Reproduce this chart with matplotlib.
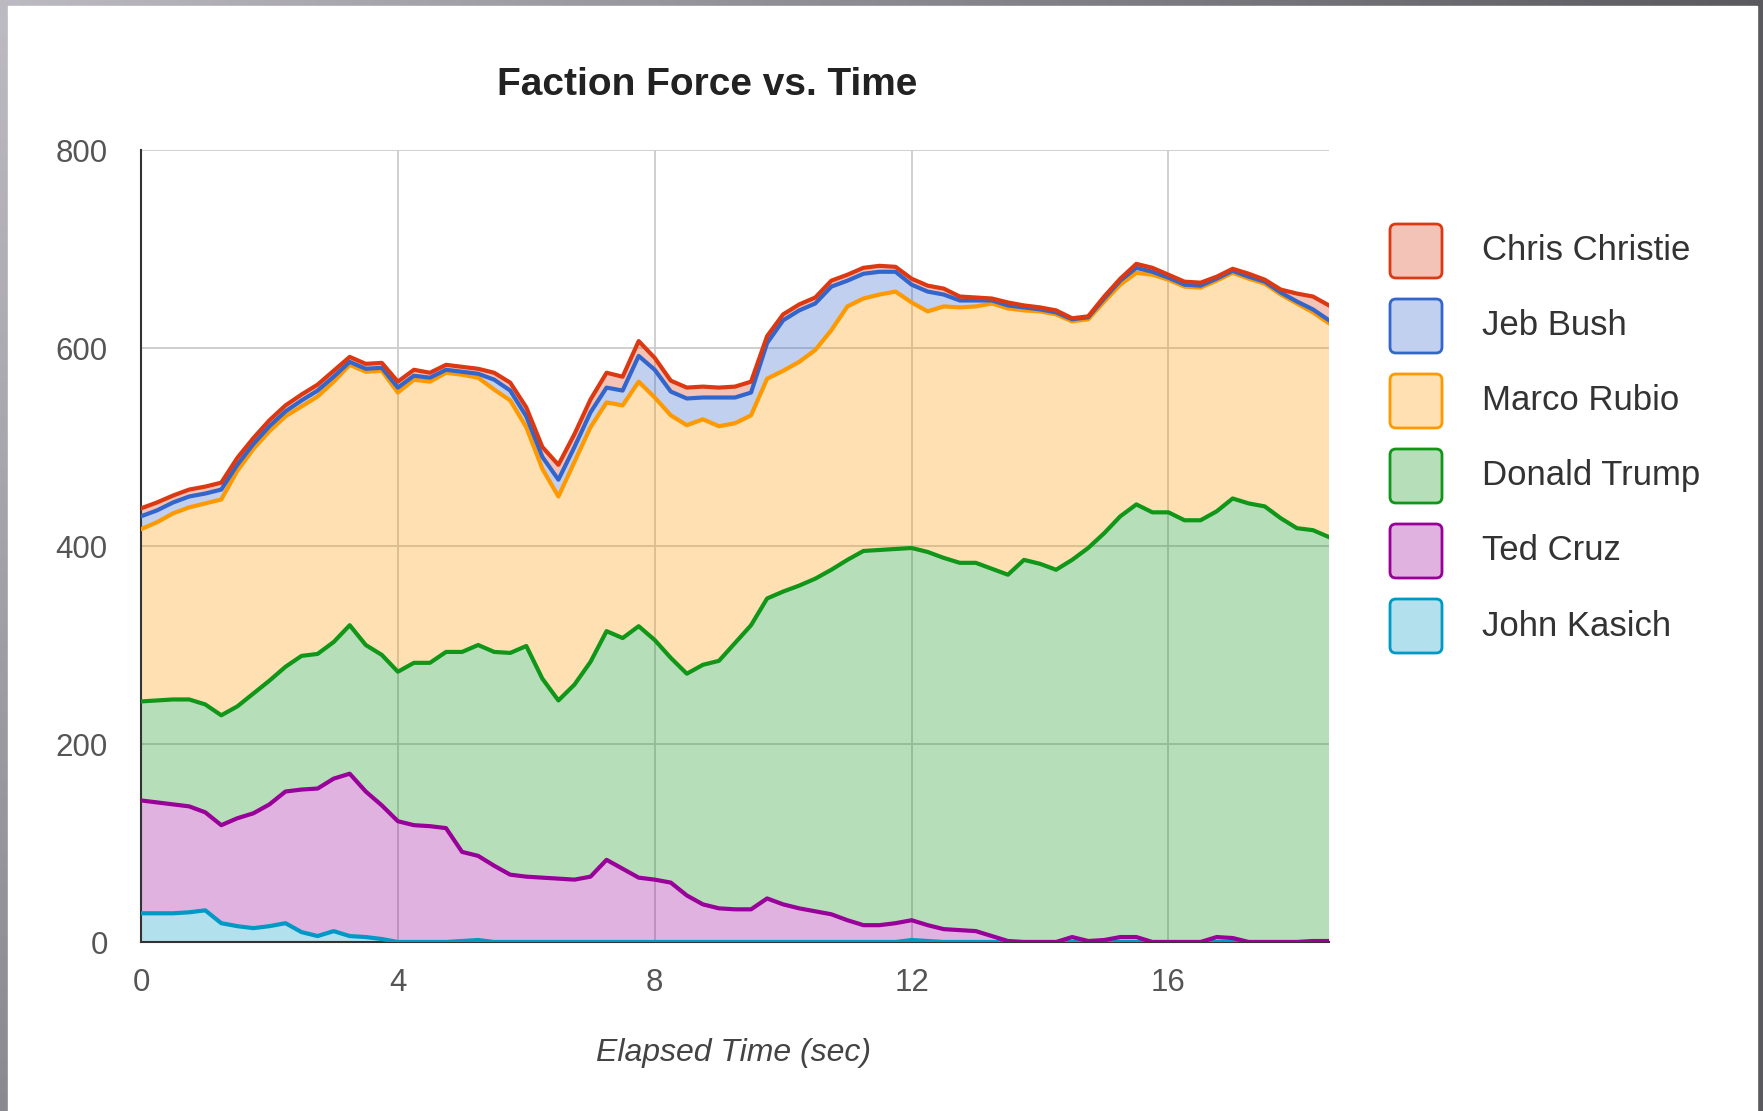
import numpy as np
import matplotlib
matplotlib.use("Agg")
import matplotlib.pyplot as plt
from matplotlib.colors import to_rgba
from matplotlib.patches import FancyBboxPatch, Rectangle
from matplotlib.transforms import IdentityTransform

W, H = 1763, 1111
plt.rcParams["font.family"] = ["Liberation Sans", "DejaVu Sans"]

# elapsed time (sec), sampled every quarter second
time_sec = [0, 0.25, 0.5, 0.75, 1, 1.25, 1.5, 1.75, 2, 2.25, 2.5, 2.75, 3, 3.25, 3.5, 3.75,
            4, 4.25, 4.5, 4.75, 5, 5.25, 5.5, 5.75, 6, 6.25, 6.5, 6.75, 7, 7.25, 7.5, 7.75,
            8, 8.25, 8.5, 8.75, 9, 9.25, 9.5, 9.75, 10, 10.25, 10.5, 10.75, 11, 11.25, 11.5,
            11.75, 12, 12.25, 12.5, 12.75, 13, 13.25, 13.5, 13.75, 14, 14.25, 14.5, 14.75,
            15, 15.25, 15.5, 15.75, 16, 16.25, 16.5, 16.75, 17, 17.25, 17.5, 17.75, 18,
            18.25, 18.5]

# faction force per candidate (stacked bottom -> top)
kasich = [29, 29, 29, 30, 32, 19, 16, 14, 16, 19, 10, 6, 11, 6, 5, 3,
          0, 0, 0, 0, 1, 2, 0, 0, 0, 0, 0, 0, 0, 0, 0, 0,
          0, 0, 0, 0, 0, 0, 0, 0, 0, 0, 0, 0, 0, 0, 0, 0,
          2, 1, 0, 0, 0, 0, 0, 0, 0, 0, 0, 0, 0, 0, 0, 0,
          0, 0, 0, 0, 0, 0, 0, 0, 0, 0, 0]
cruz = [114, 112, 110, 107, 99, 99, 109, 116, 123, 133, 144, 149, 154, 164, 147, 135,
        122, 118, 117, 115, 90, 85, 77, 68, 66, 65, 64, 63, 66, 83, 74, 65,
        63, 60, 47, 38, 34, 33, 33, 44, 38, 34, 31, 28, 22, 17, 17, 19,
        20, 16, 13, 12, 11, 6, 1, 0, 0, 0, 5, 1, 2, 5, 5, 0,
        0, 0, 0, 5, 4, 0, 0, 0, 0, 1, 1]
trump = [100, 103, 106, 108, 109, 111, 113, 121, 125, 126, 135, 136, 138, 150, 148, 152,
         151, 164, 165, 178, 202, 213, 216, 224, 233, 201, 180, 197, 217, 231, 233, 254,
         242, 227, 224, 242, 250, 269, 287, 303, 316, 326, 336, 348, 364, 378, 379, 378,
         376, 377, 375, 371, 372, 371, 370, 386, 382, 376, 381, 397, 411, 425, 437, 434,
         434, 426, 426, 430, 444, 443, 440, 428, 418, 415, 408]
rubio = [174, 180, 188, 194, 203, 218, 238, 247, 252, 253, 252, 260, 263, 263, 276, 287,
         282, 286, 284, 282, 280, 270, 265, 255, 221, 212, 206, 225, 237, 231, 235, 247,
         245, 245, 251, 248, 237, 222, 212, 222, 223, 226, 231, 242, 256, 255, 258, 260,
         248, 243, 254, 258, 259, 268, 269, 252, 255, 258, 241, 231, 234, 234, 234, 240,
         235, 236, 235, 233, 228, 227, 225, 226, 227, 220, 216]
bush = [13, 12, 11, 11, 10, 10, 6, 5, 5, 5, 6, 6, 5, 3, 3, 3,
        5, 4, 4, 3, 3, 4, 10, 10, 11, 12, 17, 15, 15, 15, 15, 26,
        28, 24, 27, 22, 29, 26, 23, 36, 51, 52, 47, 44, 26, 25, 23, 20,
        18, 20, 12, 7, 6, 3, 3, 3, 2, 2, 2, 2, 3, 4, 5, 3,
        2, 2, 2, 2, 2, 2, 2, 2, 2, 3, 3]
christie = [8, 8, 7, 7, 7, 7, 7, 6, 6, 6, 6, 6, 6, 5, 5, 5,
            6, 6, 5, 5, 5, 5, 7, 8, 9, 10, 15, 13, 13, 15, 14, 15,
            12, 11, 11, 11, 10, 11, 11, 7, 6, 6, 6, 6, 6, 6, 6, 5,
            6, 6, 6, 4, 3, 2, 3, 2, 2, 2, 1, 1, 2, 2, 4, 4,
            3, 3, 3, 2, 2, 3, 2, 3, 8, 13, 15]

names = ["John Kasich", "Ted Cruz", "Donald Trump", "Marco Rubio", "Jeb Bush", "Chris Christie"]
colors = ["#0099c6", "#990099", "#109618", "#ff9900", "#3366cc", "#dc3912"]
x_ticks = [0, 4, 8, 12, 16]
y_ticks = [0, 200, 400, 600, 800]

fig = plt.figure(figsize=(W / 100, H / 100), dpi=100)

# slide frame: grey gradient border around a white page
bg = fig.add_axes([0, 0, 1, 1], zorder=-10)
gx, gy = np.meshgrid(np.linspace(0, 1, 256), np.linspace(0, 1, 64))
wgt = np.clip(gx + 0.5 * gy, 0, 1)[..., None]
light = np.array([0.74, 0.73, 0.76])
dark = np.array([0.35, 0.35, 0.37])
bg.imshow(light * (1 - wgt) + dark * wgt, aspect="auto", extent=[0, 1, 0, 1], origin="upper")
bg.add_patch(Rectangle((8 / W, 0), (1757 - 8) / W, (H - 6) / H, color="white"))
bg.set_xlim(0, 1)
bg.set_ylim(0, 1)
bg.set_axis_off()

ax = fig.add_axes([141 / W, (H - 942) / H, (1329 - 141) / W, (942 - 150) / H])
ax.set_facecolor("none")
ys = [kasich, cruz, trump, rubio, bush, christie]
ax.stackplot(time_sec, ys, colors=colors, alpha=0.3, linewidth=0)
tops = np.cumsum(ys, axis=0)
for top, c in zip(tops, colors):
    ax.plot(time_sec, top, color=c, lw=3, solid_joinstyle="round", zorder=3)

ax.set_xlim(0, 18.5)
ax.set_ylim(0, 800)
ax.set_xticks(x_ticks)
ax.set_yticks(y_ticks)
ax.set_axisbelow(True)
ax.grid(True, color="#cccccc", lw=1.3)
for s in ("top", "right"):
    ax.spines[s].set_visible(False)
for s in ("left", "bottom"):
    ax.spines[s].set_color("#333333")
    ax.spines[s].set_linewidth(1.5)
ax.tick_params(length=0, labelsize=22.5, labelcolor="#555555")
ax.tick_params(axis="x", pad=19)
ax.tick_params(axis="y", pad=24)

fig.text(707 / W, 1 - 85 / H, "Faction Force vs. Time", ha="center", va="center",
         fontsize=28, fontweight="bold", color="#222222")
fig.text(733 / W, 1 - 1053 / H, "Elapsed Time (sec)", ha="center", va="center",
         fontsize=23, style="italic", color="#444444")

# legend, top entry = top of the stack
for i, (name, c) in enumerate(zip(names[::-1], colors[::-1])):
    cy = 251 + 75 * i
    box = FancyBboxPatch((1390, H - cy - 27), 52, 54, boxstyle="round,pad=0,rounding_size=6",
                         facecolor=to_rgba(c, 0.3), edgecolor=c, lw=2,
                         transform=IdentityTransform())
    fig.add_artist(box)
    fig.text(1482 / W, 1 - cy / H, name, ha="left", va="center", fontsize=25, color="#333333")

fig.savefig("out.png", dpi=100)
